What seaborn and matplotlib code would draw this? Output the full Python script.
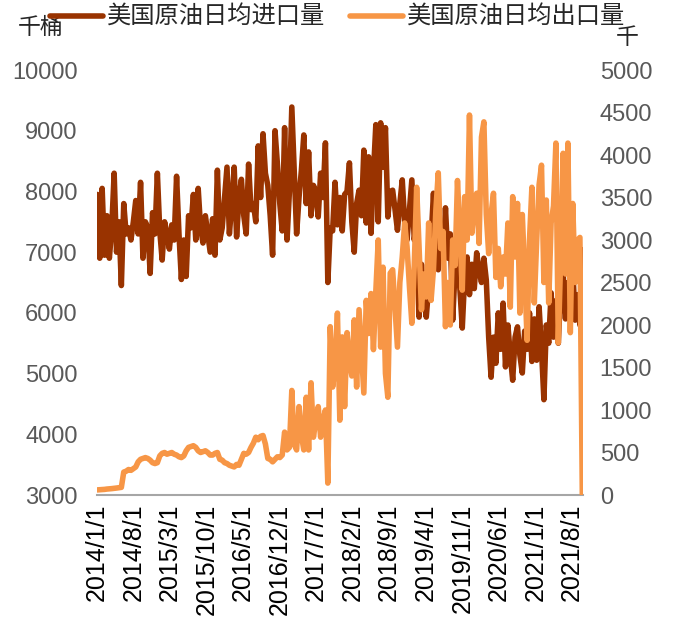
import pandas as pd
import seaborn as sns
import matplotlib.pyplot as plt

# 美国原油日均进口量 (千桶/日), biweekly readings, by year
imp_2014 = [7950, 6900, 8050, 6950, 7600, 6900, 7400, 8300, 7000, 7500, 6450, 7800, 7300,
            7400, 7200, 7500, 7850, 7300, 8150, 6900, 7500, 7400, 6650, 7650, 7300, 8300]
imp_2015 = [7350, 6870, 7500, 7300, 7050, 7450, 7200, 8250, 7300, 6550, 7200, 6600, 7600,
            7400, 7950, 7200, 8050, 7400, 7150, 7600, 7300, 7000, 7550, 6950, 8350, 7200]
imp_2016 = [7400, 7900, 8400, 7300, 7800, 8400, 7250, 7900, 8200, 7600, 7300, 8450, 7700,
            7800, 7500, 8750, 7900, 8950, 8300, 8100, 7600, 6950, 9000, 8450, 7800, 7350]
imp_2017 = [9050, 7200, 8000, 9390, 8350, 7300, 7900, 8350, 8930, 7800, 8650, 7600, 8100,
            8000, 7580, 8300, 7900, 8800, 6500, 7400, 7350, 8150, 7450, 7900, 7350, 7950]
imp_2018 = [8000, 8470, 7500, 7000, 7800, 8020, 7600, 8680, 7480, 8570, 7310, 8300, 9100,
            7500, 9130, 8400, 9050, 7580, 8000, 8020, 7700, 7360, 7800, 8190, 7500, 7200]
imp_2019 = [7700, 8190, 7200, 7500, 5930, 6800, 6300, 5930, 6430, 7200, 7970, 7000, 6710,
            7400, 6900, 7730, 6900, 7300, 5880, 6700, 7200, 6400, 5750, 6600, 6920, 6300]
imp_2020 = [6800, 6400, 6990, 6700, 6500, 6900, 6540, 5600, 4940, 5600, 5170, 6000, 5400,
            6160, 5110, 5800, 5300, 4890, 5600, 5770, 5300, 5010, 5700, 5400, 6000, 5200]
imp_2021 = [5900, 5220, 6100, 5400, 4570, 5800, 5500, 6330, 5600, 6200, 5500, 6400, 6660,
            5900, 6500, 6000, 6760, 5880, 6300, 5800, 7040]

# 美国原油日均出口量 (千桶/日)
exp_2014 = [60, 62, 64, 66, 70, 72, 75, 78, 82, 86, 90, 270, 280,
            300, 290, 310, 330, 390, 420, 430, 440, 430, 410, 380, 370, 380]
exp_2015 = [460, 490, 500, 480, 490, 500, 480, 470, 450, 440, 460, 520, 560,
            570, 580, 560, 520, 500, 510, 520, 500, 470, 470, 490, 500, 420]
exp_2016 = [410, 380, 370, 350, 340, 330, 360, 350, 420, 490, 480, 500, 560,
            610, 680, 650, 690, 700, 600, 430, 420, 390, 420, 450, 440, 470]
exp_2017 = [740, 530, 560, 1230, 600, 530, 1040, 700, 530, 1150, 530, 1320, 680,
            880, 1040, 680, 880, 1000, 140, 1980, 1270, 1500, 2140, 880, 1860, 1040]
exp_2018 = [1910, 1590, 1400, 2060, 1270, 2180, 1700, 1200, 2290, 1900, 2370, 1710, 2400,
            3000, 1740, 2680, 1430, 1150, 2610, 2650, 2200, 1740, 2500, 2800, 3200, 2920]
exp_2019 = [2450, 2020, 2700, 3620, 2920, 2180, 2600, 2330, 3200, 2290, 2650, 3350, 3790,
            2900, 3100, 1980, 2500, 2000, 3000, 2700, 3700, 3100, 2410, 3510, 3000, 4470]
exp_2020 = [3080, 3400, 3550, 2960, 4210, 4390, 3300, 2840, 3300, 3550, 2560, 2900, 2450,
            2800, 2600, 3200, 2210, 3510, 2800, 3430, 2140, 3300, 2600, 1820, 3000, 3620]
exp_2021 = [2260, 3000, 3650, 3880, 2500, 3470, 2260, 3200, 3400, 4140, 1790, 2800, 4020,
            2600, 4140, 1910, 3430, 2500, 3000, 3030, 0]

tick_labels = ['2014/1/1', '2014/8/1', '2015/3/1', '2015/10/1', '2016/5/1', '2016/12/1',
               '2017/7/1', '2018/2/1', '2018/9/1', '2019/4/1', '2019/11/1', '2020/6/1',
               '2021/1/1', '2021/8/1']

imports = imp_2014 + imp_2015 + imp_2016 + imp_2017 + imp_2018 + imp_2019 + imp_2020 + imp_2021
exports = exp_2014 + exp_2015 + exp_2016 + exp_2017 + exp_2018 + exp_2019 + exp_2020 + exp_2021
dates = pd.date_range('2014-01-03', periods=len(imports), freq='14D')
df = pd.DataFrame({'date': dates, 'imp': imports, 'exp': exports})

sns.set_style('white')
plt.rcParams['font.family'] = ['Liberation Sans', 'Noto Sans CJK SC']

c_imp = '#993300'
c_exp = '#F79646'
gray = '#595959'

fig = plt.figure(figsize=(6.73, 6.2), dpi=100)
ax = fig.add_axes([97 / 673, 125 / 620, 486 / 673, 425 / 620])
ax2 = ax.twinx()

sns.lineplot(data=df, x='date', y='imp', ax=ax, color=c_imp, linewidth=4,
             label='美国原油日均进口量', legend=False)
sns.lineplot(data=df, x='date', y='exp', ax=ax2, color=c_exp, linewidth=4,
             label='美国原油日均出口量', legend=False)

ax.set_ylim(3000, 10000)
ax2.set_ylim(0, 5000)
ax.set_yticks(range(3000, 10001, 1000))
ax2.set_yticks(range(0, 5001, 500))
ax.set_xlim(pd.Timestamp('2014-01-01'), pd.Timestamp('2021-10-05'))
tick_dates = [pd.Timestamp(t.replace('/', '-')) for t in tick_labels]
ax.set_xticks(tick_dates)
ax.set_xticklabels(tick_labels, rotation=90, fontsize=18, color='black')

for a in (ax, ax2):
    a.set_xlabel('')
    a.set_ylabel('')
    for s in ('top', 'left', 'right', 'bottom'):
        a.spines[s].set_visible(False)
    a.tick_params(axis='y', length=0, labelsize=17, labelcolor=gray)
ax.tick_params(axis='y', pad=14)
ax2.tick_params(axis='y', pad=12)
ax.spines['bottom'].set_visible(True)
ax.spines['bottom'].set_color('#A6A6A6')
ax.spines['bottom'].set_linewidth(1.5)
ax.tick_params(axis='x', direction='in', length=6, width=1.2, color='#A6A6A6', pad=6)

fig.text(18 / 673, 1 - 28 / 620, '千桶', fontsize=16.5, va='center', ha='left')
fig.text(627 / 673, 1 - 38 / 620, '千', fontsize=16.5, va='center', ha='center')

h1, l1 = ax.get_legend_handles_labels()
h2, l2 = ax2.get_legend_handles_labels()
fig.legend(h1 + h2, l1 + l2, loc='upper left', bbox_to_anchor=(50 / 673, 1 - 6 / 620),
           ncol=2, frameon=False, fontsize=17.5, handlelength=2.2, handletextpad=0.15,
           columnspacing=1.0, borderpad=0, borderaxespad=0)

fig.savefig('out.png', dpi=100)
